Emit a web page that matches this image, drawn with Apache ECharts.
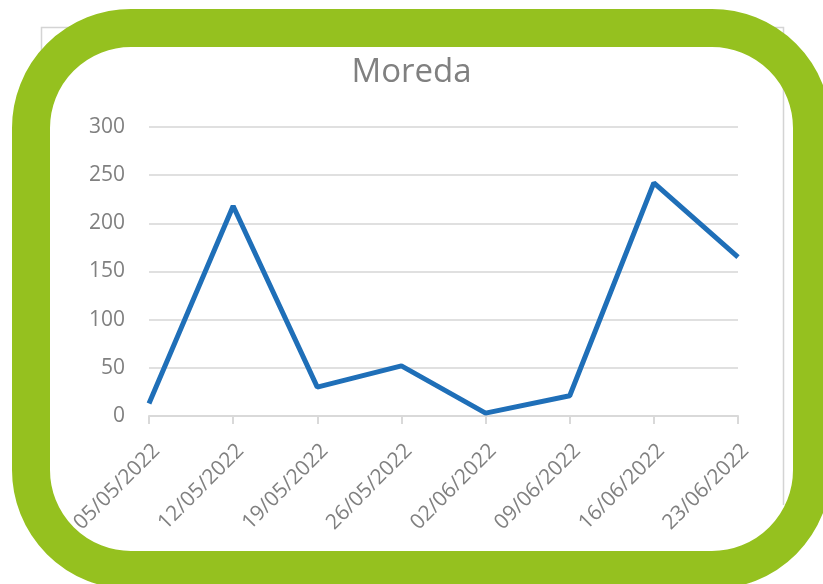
<!DOCTYPE html>
<html>
<head>
<meta charset="utf-8">
<script src="https://cdn.jsdelivr.net/npm/echarts@6/dist/echarts.min.js"></script>
<style>
    html, body { margin: 0; padding: 0; background: #fff; }
    #chart { width: 823px; height: 584px; }
</style>
</head>
<body>
<div id="chart"></div>
<script>
// datos
let fechas = ["05/05/2022", "12/05/2022", "19/05/2022", "26/05/2022", "02/06/2022", "09/06/2022", "16/06/2022", "23/06/2022"];
let valores = [13, 218, 30, 52, 3, 21, 242, 165];
let ticksY = [0, 50, 100, 150, 200, 250, 300];

let myChart = echarts.init(document.getElementById("chart"));
let gris = "#808080";

myChart.setOption({
    backgroundColor: "#fff",
    animation: false,
    title: {
        text: "Moreda",
        left: "center",
        top: 51,
        textStyle: { fontFamily: "Open Sans", fontSize: 33, fontWeight: "normal", color: gris }
    },
    grid: { left: 149, right: 85, top: 127, bottom: 168 },
    xAxis: {
        type: "category",
        data: fechas,
        boundaryGap: false,
        axisLine: { lineStyle: { color: "#d9d9d9", width: 2 } },
        axisTick: { length: 8, lineStyle: { color: "#d9d9d9", width: 2 } },
        axisLabel: {
            rotate: 45, margin: 24, verticalAlign: "top",
            fontFamily: "Open Sans", fontSize: 21, color: gris, interval: 0
        },
        splitLine: { show: false }
    },
    yAxis: {
        type: "value",
        min: ticksY[0],
        max: ticksY[ticksY.length - 1],
        interval: 50,
        axisLine: { show: false },
        axisTick: { show: false },
        axisLabel: { margin: 24, fontFamily: "Open Sans", fontSize: 21, color: gris },
        splitLine: { lineStyle: { color: "#e0e0e0", width: 2 } }
    },
    series: [{
        type: "line",
        data: valores,
        symbol: "none",
        lineStyle: { color: "#1f6fb8", width: 5 }
    }],
    graphic: [
        // borde gris del gráfico original
        {
            type: "polyline", z: 50, silent: true,
            shape: { points: [[41.5, 520], [41.5, 27.5], [783.5, 27.5], [783.5, 505]] },
            style: { fill: "none", stroke: "#d4d4d4", lineWidth: 1.5 }
        },
        // marco verde
        {
            type: "rect", z: 100, silent: true,
            shape: { x: 31, y: 28, width: 781, height: 542, r: 100 },
            style: { fill: "none", stroke: "#95c11f", lineWidth: 38 }
        }
    ]
});

window.addEventListener("resize", function () {
    myChart.resize();
});
</script>
</body>
</html>
